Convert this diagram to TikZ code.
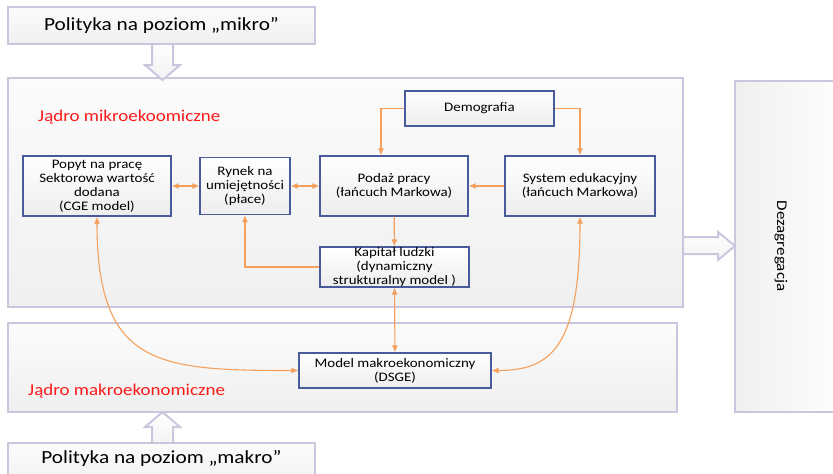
\documentclass[tikz,border=0pt]{standalone}
\usepackage{fontspec}
\setmainfont{Carlito}[FakeStretch=1.15]
\usetikzlibrary{arrows.meta}
\definecolor{boxblue}{HTML}{4A5B9C}
\definecolor{linkorange}{HTML}{F4A05C}
\definecolor{panelline}{HTML}{CCC5DE}
\definecolor{kernelred}{HTML}{FF1A1A}

\begin{document}
\begin{tikzpicture}[x=1pt, y=-1pt,
    >={Latex[length=7pt,width=6pt]},
    panel/.style={draw=panelline, line width=2.5pt, top color=gray!3, bottom color=gray!12},
    blockarrow/.style={draw=panelline, line width=2pt, top color=white, bottom color=gray!10},
    box/.style={draw=boxblue, line width=1.1pt, top color=white, bottom color=gray!14,
        align=center, inner sep=0pt, font=\fontsize{13}{14}\selectfont},
    kernel/.style={text=kernelred, anchor=west, inner sep=0pt, font=\fontsize{16.5}{18}\selectfont},
    link/.style={draw=linkorange, line width=1.1pt}]
    \useasboundingbox (0,0) rectangle (833,474);
    \clip (0,0) rectangle (833,474);

    \draw[panel] (8,78) rectangle (683,307);
    \draw[panel] (8,323) rectangle (677,412);
    \draw[draw=panelline, line width=2.5pt, left color=gray!12, right color=white] (735,81) rectangle (850,412);

    \draw[blockarrow] (152,40) -- (152,65) -- (145,65) -- (162.5,80) -- (180,65) -- (173,65) -- (173,40) -- cycle;
    \draw[blockarrow] (152,447) -- (152,427) -- (145,427) -- (162.5,412) -- (180,427) -- (173,427) -- (173,447) -- cycle;
    \draw[blockarrow] (683,237) -- (718,237) -- (718,232) -- (735,246) -- (718,260) -- (718,254) -- (683,254) -- cycle;

    \draw[panel] (8,7) rectangle (315,44);
    \draw[panel] (8,443) rectangle (315,490);

    \node[font=\fontsize{18.5}{20}\selectfont] (micropolicy) at (161.5,25.5) {Polityka na poziom „mikro”};
    \node[font=\fontsize{18.5}{20}\selectfont] (macropolicy) at (161.5,458) {Polityka na poziom „makro”};
    \node[rotate=-90, font=\fontsize{14.8}{16}\selectfont] (dezagregacja) at (781,246) {Dezagregacja};

    \node[kernel] (microlabel) at (38,117) {Jądro mikroekoomiczne};
    \node[kernel] (macrolabel) at (28,391) {Jądro makroekonomiczne};

    \node[box, minimum width=148pt, minimum height=60pt] (popyt) at (97,186) {Popyt na pracę\\Sektorowa wartość\\dodana\\(CGE model)};
    \node[box, minimum width=90pt, minimum height=57pt] (rynek) at (245,186) {Rynek na\\umiejętności\\(płace)};
    \node[box, minimum width=148pt, minimum height=60pt] (podaz) at (394,186) {Podaż pracy\\(łańcuch Markowa)};
    \node[box, minimum width=149pt, minimum height=35pt] (demografia) at (479.5,108.5) {Demografia};
    \node[box, minimum width=150pt, minimum height=60pt] (system) at (580,186) {System edukacyjny\\(łańcuch Markowa)};
    \node[box, minimum width=149pt, minimum height=40pt] (kapital) at (394.5,267) {Kapitał ludzki\\(dynamiczny\\strukturalny model )};
    \node[box, minimum width=192pt, minimum height=35pt] (model) at (395,370.5) {Model makroekonomiczny\\(DSGE)};

    \draw[link, <->] (popyt) -- (rynek);
    \draw[link, <->] (rynek) -- (podaz);
    \draw[link, ->] (demografia.west) -| ([xshift=-13pt]podaz.north);
    \draw[link, ->] (demografia.east) -| (system.north);
    \draw[link, ->] (system) -- (podaz);
    \draw[link, ->] (podaz) -- (kapital);
    \draw[link, ->] (kapital.west) -| (rynek.south);
    \draw[link, <->] (kapital) -- (model);
    \draw[link, <->] (popyt.south) .. controls +(0,150) and +(-140,0) .. (model.west);
    \draw[link, <->] (system.south) .. controls +(0,130) and +(60,0) .. (model.east);
\end{tikzpicture}
\end{document}
